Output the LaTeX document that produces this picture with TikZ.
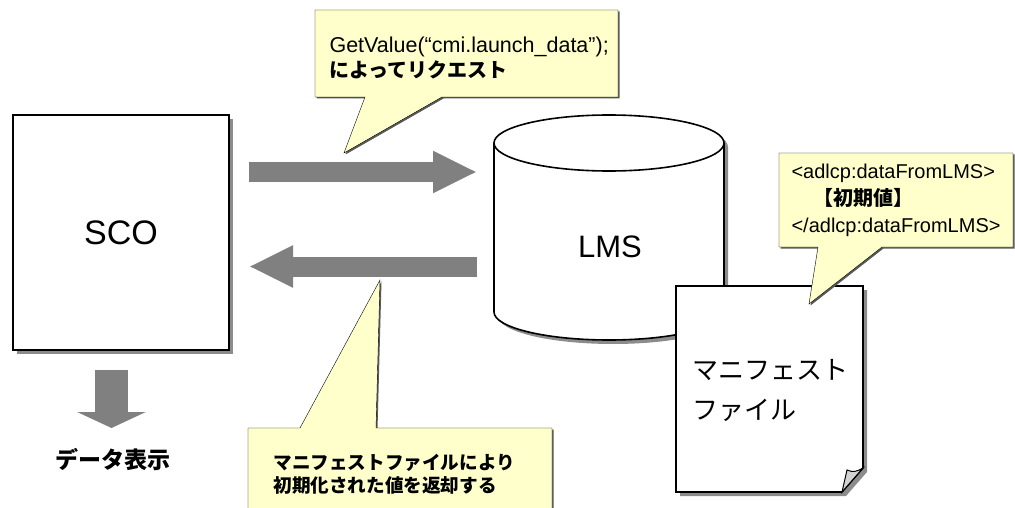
\documentclass[tikz,border=0pt]{standalone}
\usepackage{fontspec}
\setmainfont{Liberation Sans}
\newfontfamily\jp{Noto Sans CJK JP}
\usetikzlibrary{arrows.meta,shadows}

\begin{document}
\begin{tikzpicture}[x=1pt,y=-1pt,line join=miter]
 \tikzstyle{shadowed} = [drop shadow={shadow xshift=4pt,shadow yshift=-4pt,fill=gray!90,opacity=1}]
 \tikzstyle{balloon} = [draw=black,fill=balloonfill,drop shadow={shadow xshift=1.5pt,shadow yshift=-1.5pt,fill=black!65,opacity=1}]
 \tikzstyle{bigarrow} = [draw=gray,line width=20pt,-{Triangle[length=44pt,width=39pt]}]
 \definecolor{balloonfill}{HTML}{FFFFCC}
 \newcommand{\rx}{115}
 \newcommand{\ry}{28}

 \useasboundingbox (0,0) rectangle (1015,508);
 \clip (0,0) rectangle (1015,508);

% SCO box
 \node[draw,line width=2pt,fill=white,shadowed,minimum width=216pt,minimum height=235pt,
   font=\fontsize{34}{40}\selectfont] (sco) at (121,232.5) {SCO};

% LMS cylinder (drawn by hand)
 \path[draw,line width=1.6pt,fill=white,shadowed] (494,143) -- (494,312)
   arc[start angle=180,end angle=0,x radius=\rx,y radius=\ry] -- (724,143)
   arc[start angle=0,end angle=-180,x radius=\rx,y radius=\ry] -- cycle;
 \draw[line width=1.6pt] (494,143) arc[start angle=180,end angle=0,x radius=\rx,y radius=\ry];
 \node[font=\fontsize{31}{31}\selectfont] (lms) at (610,247) {LMS};

% Manifest file, folded corner
 \path[draw,line width=1.6pt,fill=white,shadowed] (676,286) -- (863,286) -- (863,468)
   -- (842,492) -- (676,492) -- cycle;
 \draw[line width=1pt,fill=gray!35] (842,492) -- (847,470) .. controls (853,473) and (858,471) .. (863,468) -- cycle;
 \node[align=left,font=\jp\fontsize{26}{40}\selectfont] (manifest) at (770,390) {マニフェスト\\ファイル};

% Arrows
 \coordinate (req from) at (249,172);
 \coordinate (req to) at (477,172);
 \coordinate (ret from) at (477,266.5);
 \coordinate (ret to) at (249,266.5);
 \coordinate (show from) at (111.5,370);
 \coordinate (show to) at (111.5,428);
 \draw[bigarrow] (req from) -- (req to);
 \draw[bigarrow] (ret from) -- (ret to);
 \draw[draw=gray,line width=33pt,-{Triangle[length=16pt,width=68pt]}] (show from) -- (show to);
 \node[font=\jp\bfseries\fontsize{23}{23}\selectfont] (show) at (113,460) {データ表示};

% Balloons
 \path[balloon] (315,10) -- (618,10) -- (618,97) -- (442,97) -- (344,153) -- (365,97)
   -- (315,97) -- cycle;
 \node[anchor=west,align=left,font=\fontsize{21.5}{25}\selectfont] (req text) at (326,57.5)
   {GetValue(“cmi.launch\_data”);\\{\jp\bfseries\fontsize{20}{25}\selectfont によってリクエスト}};

 \path[balloon] (779,153) -- (1013,153) -- (1013,247) -- (882,247) -- (809,304) -- (818,247)
   -- (779,247) -- cycle;
 \node[anchor=west,align=left,font=\fontsize{20}{27}\selectfont] (init text) at (788,200)
   {<adlcp:dataFromLMS>\\\hspace{22pt}{\jp\bfseries 【初期値】}\\</adlcp:dataFromLMS>};

 \path[balloon] (248,428) -- (300,428) -- (380,280) -- (376,428) -- (552,428) -- (552,530)
   -- (248,530) -- cycle;
 \node[anchor=west,align=left,font=\jp\bfseries\fontsize{18.6}{22.5}\selectfont] (ret text) at (270,474)
   {マニフェストファイルにより\\初期化された値を返却する};
\end{tikzpicture}
\end{document}
